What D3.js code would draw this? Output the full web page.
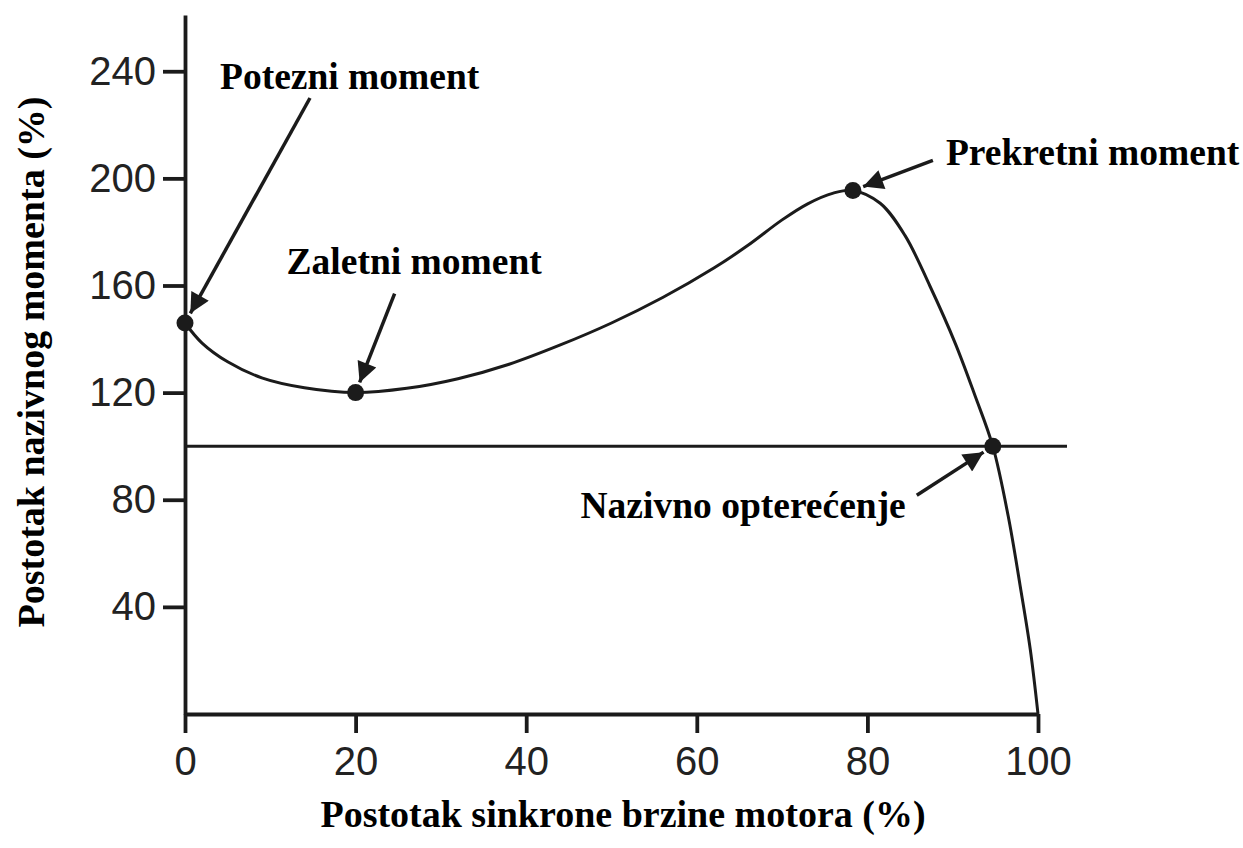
<!DOCTYPE html>
<html>
<head>
<meta charset="utf-8">
<script src="https://cdn.jsdelivr.net/npm/d3@7"></script>
<style>
  body { margin: 0; background: #fff; }
  .tick text { font-family: 'Liberation Sans', Arial, sans-serif; }
  .title { font-family: 'Liberation Serif', 'Times New Roman', serif; font-weight: bold; }
</style>
</head>
<body>
<div id="chart"></div>
<script>
// speed (% of synchronous) vs torque (% of rated)
const speed = [0, 2, 5, 9, 14, 20, 26, 32, 38, 44, 50, 56, 62, 66, 70, 73, 76, 78.3, 81.5, 84.4, 87.3, 90.3, 92.6, 94.7, 96.5, 97.9, 99.1, 100];
const torque = [146, 138.5, 131.5, 125.5, 121.8, 120, 121.6, 125.2, 130.6, 137.8, 146, 155.5, 166.5, 175, 184.5, 190.5, 194.5, 195.5, 190.7, 178.7, 160, 138.4, 119, 100, 74, 48, 24, 0];

const xTicks = [0, 20, 40, 60, 80, 100];
const yTicks = [40, 80, 120, 160, 200, 240];

const ratedLoad = 100;
const ratedLineEnd = 103.4;

const markLabels = ['Potezni moment', 'Zaletni moment', 'Prekretni moment', 'Nazivno opterećenje'];
const markSpeed = [0, 20, 78.3, 94.7];
const markTorque = [146, 120, 195.5, 100];

const xTitle = 'Postotak sinkrone brzine motora (%)';
const yTitle = 'Postotak nazivnog momenta (%)';

const width = 1243;
const height = 848;
const margin = { top: 15, right: 205, bottom: 134, left: 185 };
const ink = '#1b1b1b';

const xScale = d3.scaleLinear().domain([0, 100]).range([margin.left, width - margin.right]);
const yScale = d3.scaleLinear().domain([0, 261]).range([height - margin.bottom, margin.top]);

const svg = d3
  .select('#chart')
  .append('svg')
  .attr('width', width)
  .attr('height', height);

svg.append('defs')
  .append('marker')
  .attr('id', 'head')
  .attr('viewBox', '0 -5 10 10')
  .attr('refX', 10)
  .attr('refY', 0)
  .attr('markerUnits', 'userSpaceOnUse')
  .attr('markerWidth', 28)
  .attr('markerHeight', 20)
  .attr('orient', 'auto')
  .append('path')
  .attr('d', 'M0,-5L10,0L0,5Z')
  .attr('fill', ink);

const xAxis = d3.axisBottom(xScale).tickValues(xTicks).tickSize(19).tickSizeOuter(0).tickPadding(14);
const yAxis = d3.axisLeft(yScale).tickValues(yTicks).tickSize(22).tickSizeOuter(0).tickPadding(7);

const gx = svg.append('g')
  .attr('transform', `translate(0,${yScale(0)})`)
  .call(xAxis);
const gy = svg.append('g')
  .attr('transform', `translate(${xScale(0)},0)`)
  .call(yAxis);

[gx, gy].forEach((g) => {
  g.select('.domain').attr('stroke', ink).attr('stroke-width', 3.8);
  g.selectAll('.tick line').attr('stroke', ink).attr('stroke-width', 3.8);
  g.selectAll('.tick text').attr('fill', '#222').style('font-size', '40px');
});

// rated load line
svg.append('line')
  .attr('x1', xScale(0))
  .attr('x2', xScale(ratedLineEnd))
  .attr('y1', yScale(ratedLoad))
  .attr('y2', yScale(ratedLoad))
  .attr('stroke', ink)
  .attr('stroke-width', 3);

const line = d3
  .line()
  .x((d, i) => xScale(speed[i]))
  .y((d) => yScale(d))
  .curve(d3.curveCatmullRom.alpha(0.5));

svg.append('path')
  .attr('d', line(torque))
  .attr('fill', 'none')
  .attr('stroke', ink)
  .attr('stroke-width', 3);

svg.selectAll('circle.mark')
  .data(markSpeed)
  .enter()
  .append('circle')
  .attr('class', 'mark')
  .attr('cx', (d) => xScale(d))
  .attr('cy', (d, i) => yScale(markTorque[i]))
  .attr('r', 8.5)
  .attr('fill', ink);

// arrow tail and label placement, pixels relative to the marked point
const tails = [[125, -225], [39, -99], [80, -30], [-76, 49]];
const labelPos = [[35, -234], [-69, -119], [93, -25], [-87, 72]];
const anchors = ['start', 'start', 'start', 'end'];

markSpeed.forEach((s, i) => {
  const cx = xScale(s);
  const cy = yScale(markTorque[i]);
  const [tx, ty] = tails[i];
  const len = Math.hypot(tx, ty);
  const gap = 11;
  svg.append('line')
    .attr('x1', cx + tx)
    .attr('y1', cy + ty)
    .attr('x2', cx + (tx / len) * gap)
    .attr('y2', cy + (ty / len) * gap)
    .attr('stroke', ink)
    .attr('stroke-width', 3.5)
    .attr('marker-end', 'url(#head)');

  svg.append('text')
    .attr('class', 'title')
    .attr('x', cx + labelPos[i][0])
    .attr('y', cy + labelPos[i][1])
    .attr('text-anchor', anchors[i])
    .style('font-size', '37.5px')
    .attr('fill', '#000')
    .text(markLabels[i]);
});

svg.append('text')
  .attr('class', 'title')
  .attr('x', 623)
  .attr('y', 827)
  .attr('text-anchor', 'middle')
  .style('font-size', '38px')
  .text(xTitle);

svg.append('text')
  .attr('class', 'title')
  .attr('transform', 'translate(44,362) rotate(-90)')
  .attr('text-anchor', 'middle')
  .style('font-size', '38px')
  .text(yTitle);
</script>
</body>
</html>
